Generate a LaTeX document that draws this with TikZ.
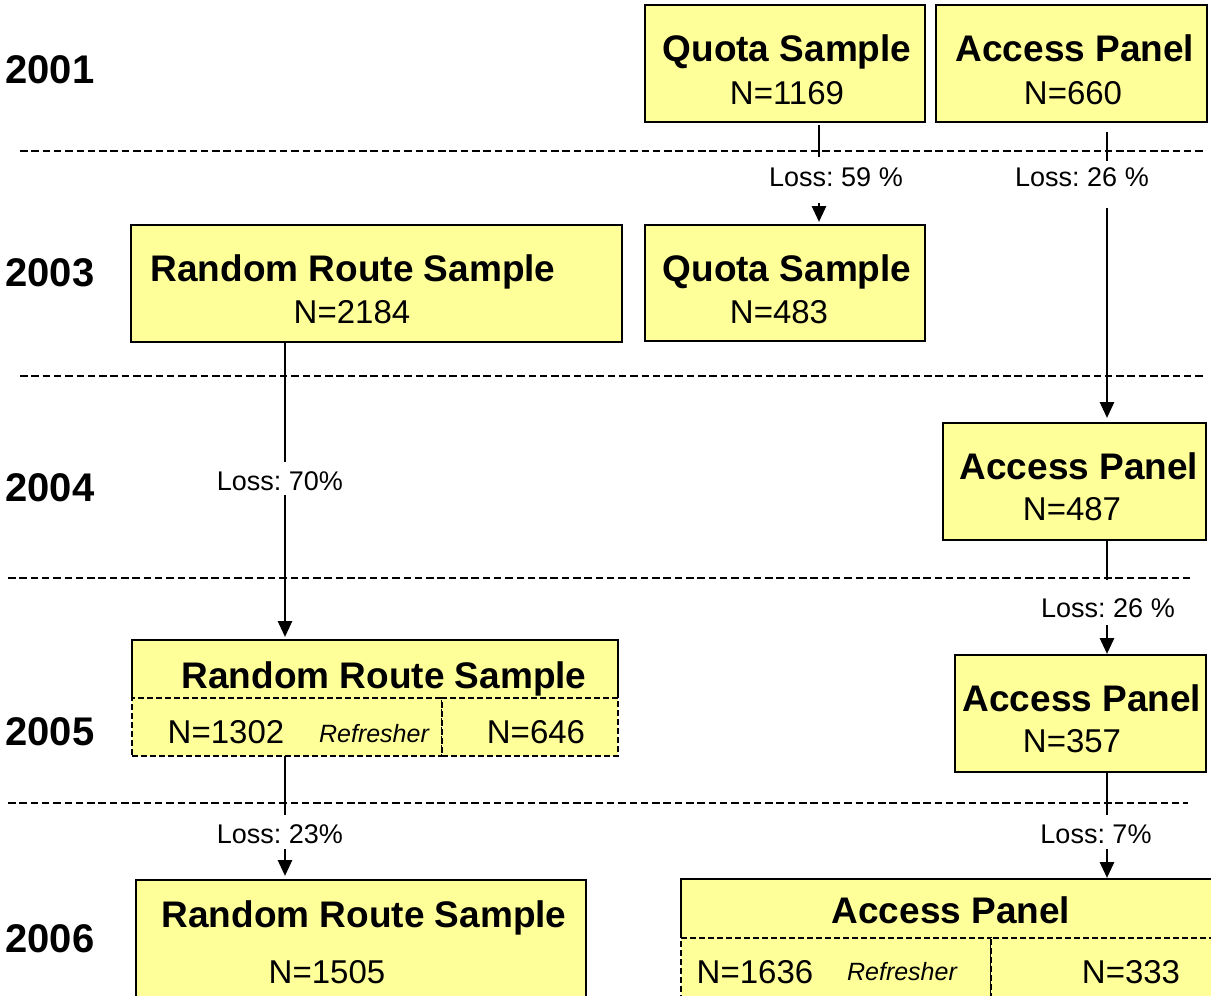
\documentclass[tikz,border=0pt]{standalone}
\usepackage{fontspec}
\setmainfont{Liberation Sans}
\usetikzlibrary{arrows.meta}
\definecolor{boxfill}{HTML}{FFFF99}
\frenchspacing
\tikzset{
 box/.style={draw=black, line width=2.3pt, fill=boxfill, inner sep=0pt, outer sep=0pt, anchor=north west},
 titlebox/.style={fill=boxfill, draw=none, inner sep=0pt, outer sep=0pt, anchor=north west},
 cellbox/.style={draw=black, line width=2pt, dash pattern=on 6pt off 3pt, fill=boxfill, inner sep=0pt, outer sep=0pt, anchor=north west},
 solidedge/.style={draw=black, line width=2.3pt},
 sepline/.style={line width=2.8pt, dash pattern=on 7.5pt off 3.8pt},
 arr/.style={line width=2.8pt, -{Triangle[width=14pt,length=16pt]}},
 ttl/.style={font=\fontsize{37}{40}\selectfont\bfseries, anchor=base, inner sep=0pt},
 num/.style={font=\fontsize{33}{36}\selectfont, anchor=base, inner sep=0pt},
 refr/.style={font=\fontsize{25}{28}\selectfont\itshape, anchor=base, inner sep=0pt},
 yr/.style={font=\fontsize{40}{44}\selectfont\bfseries, anchor=base, inner sep=0pt},
 loss/.style={font=\fontsize{27}{30}\selectfont, anchor=base, fill=white, inner xsep=3pt, inner ysep=0pt},
}
\begin{document}
\begin{tikzpicture}[x=1pt,y=-1pt]
\useasboundingbox (0,0) rectangle (1211,996);
\clip (0,0) rectangle (1211,996);
\fill[white] (0,0) rectangle (1211,996);

% column coordinates
\coordinate (cq) at (819,0);
\coordinate (ca) at (1107,0);
\coordinate (cr) at (285,0);

% dashed year separators
\coordinate (s1a) at (20,151);  \coordinate (s1b) at (1205,151);
\coordinate (s2a) at (20,376);  \coordinate (s2b) at (1203,376);
\coordinate (s3a) at (8,578);   \coordinate (s3b) at (1190,578);
\coordinate (s4a) at (8,803);   \coordinate (s4b) at (1188,803);
\draw[sepline] (s1a) -- (s1b);
\draw[sepline] (s2a) -- (s2b);
\draw[sepline] (s3a) -- (s3b);
\draw[sepline] (s4a) -- (s4b);

% years
\node[yr] (y01) at (50,83) {2001};
\node[yr] (y03) at (50,286) {2003};
\node[yr] (y04) at (50,501) {2004};
\node[yr] (y05) at (50,745) {2005};
\node[yr] (y06) at (50,952) {2006};

% 2001
\node[box, minimum width=280pt, minimum height=117pt] (q01) at (645,5) {};
\node[ttl] (q01t) at (787,61) {Quota Sample};
\node[num] (q01n) at (787,104) {N=1169};
\node[box, minimum width=271pt, minimum height=117pt] (a01) at (936,5) {};
\node[ttl] (a01t) at (1075,61) {Access Panel};
\node[num] (a01n) at (1073,104) {N=660};

% 2003
\node[box, minimum width=491pt, minimum height=117pt] (r03) at (131,225) {};
\node[ttl] (r03t) at (353,281) {Random Route Sample};
\node[num] (r03n) at (352,323) {N=2184};
\node[box, minimum width=280pt, minimum height=116pt] (q03) at (645,225) {};
\node[ttl] (q03t) at (787,281) {Quota Sample};
\node[num] (q03n) at (779,323) {N=483};

% 2004
\node[box, minimum width=263pt, minimum height=117pt] (a04) at (943,423) {};
\node[ttl] (a04t) at (1079,479) {Access Panel};
\node[num] (a04n) at (1072,520) {N=487};

% 2005
\node[titlebox, minimum width=486pt, minimum height=58pt] (r05) at (132,640) {};
\draw[solidedge] (r05.south west) -- (r05.north west) -- (r05.north east) -- (r05.south east);
\node[cellbox, minimum width=310pt, minimum height=58pt] (r05l) at (132,698) {};
\node[cellbox, minimum width=176pt, minimum height=58pt] (r05r) at (442,698) {};
\node[ttl] (r05t) at (384,688) {Random Route Sample};
\node[num] (r05n1) at (226,743) {N=1302};
\node[refr] (r05f) at (374,742) {Refresher};
\node[num] (r05n2) at (536,743) {N=646};

\node[box, minimum width=251pt, minimum height=117pt] (a05) at (955,655) {};
\node[ttl] (a05t) at (1082,711) {Access Panel};
\node[num] (a05n) at (1072,752) {N=357};

% 2006
\node[box, minimum width=450pt, minimum height=130pt] (r06) at (136,880) {};
\node[ttl] (r06t) at (364,927) {Random Route Sample};
\node[num] (r06n) at (327,983) {N=1505};

\node[titlebox, minimum width=540pt, minimum height=59pt] (a06) at (681,879) {};
\draw[solidedge] (a06.south west) -- (a06.north west) -- (a06.north east) -- (a06.south east);
\node[cellbox, minimum width=310pt, minimum height=70pt] (a06l) at (681,938) {};
\node[cellbox, minimum width=230pt, minimum height=70pt] (a06r) at (991,938) {};
\node[ttl] (a06t) at (951,923) {Access Panel};
\node[num] (a06n1) at (755,983) {N=1636};
\node[refr] (a06f) at (902,980) {Refresher};
\node[num] (a06n2) at (1131,983) {N=333};

% arrows
\draw[arr, shorten <=3pt, shorten >=3pt] (q01.south -| cq) -- (q03.north -| cq);
\node[loss, text height=29pt, text depth=17pt] (l59) at (836,186) {Loss: 59 \%};

\draw[arr, shorten <=10pt, shorten >=5pt] (a01.south -| ca) -- (a04.north -| ca);
\node[loss, text height=25pt, text depth=22pt] (l26a) at (1082,186) {Loss: 26 \%};

\draw[arr, shorten >=3pt] (r03.south -| cr) -- (r05.north -| cr);
\node[loss, text height=28pt, text depth=5pt] (l70) at (280,490) {Loss: 70\%};

\draw[arr, shorten >=1pt] (a04.south -| ca) -- (a05.north -| ca);
\node[loss, text height=37pt, text depth=8pt] (l26b) at (1108,617) {Loss: 26 \%};

\draw[arr, shorten >=4pt] (r05l.south -| cr) -- (r06.north -| cr);
\node[loss, text height=28pt, text depth=6pt] (l23) at (280,843) {Loss: 23\%};

\draw[arr, shorten >=1pt] (a05.south -| ca) -- (a06.north -| ca);
\node[loss, text height=28pt, text depth=6pt] (l7) at (1096,843) {Loss: 7\%};
\end{tikzpicture}
\end{document}
